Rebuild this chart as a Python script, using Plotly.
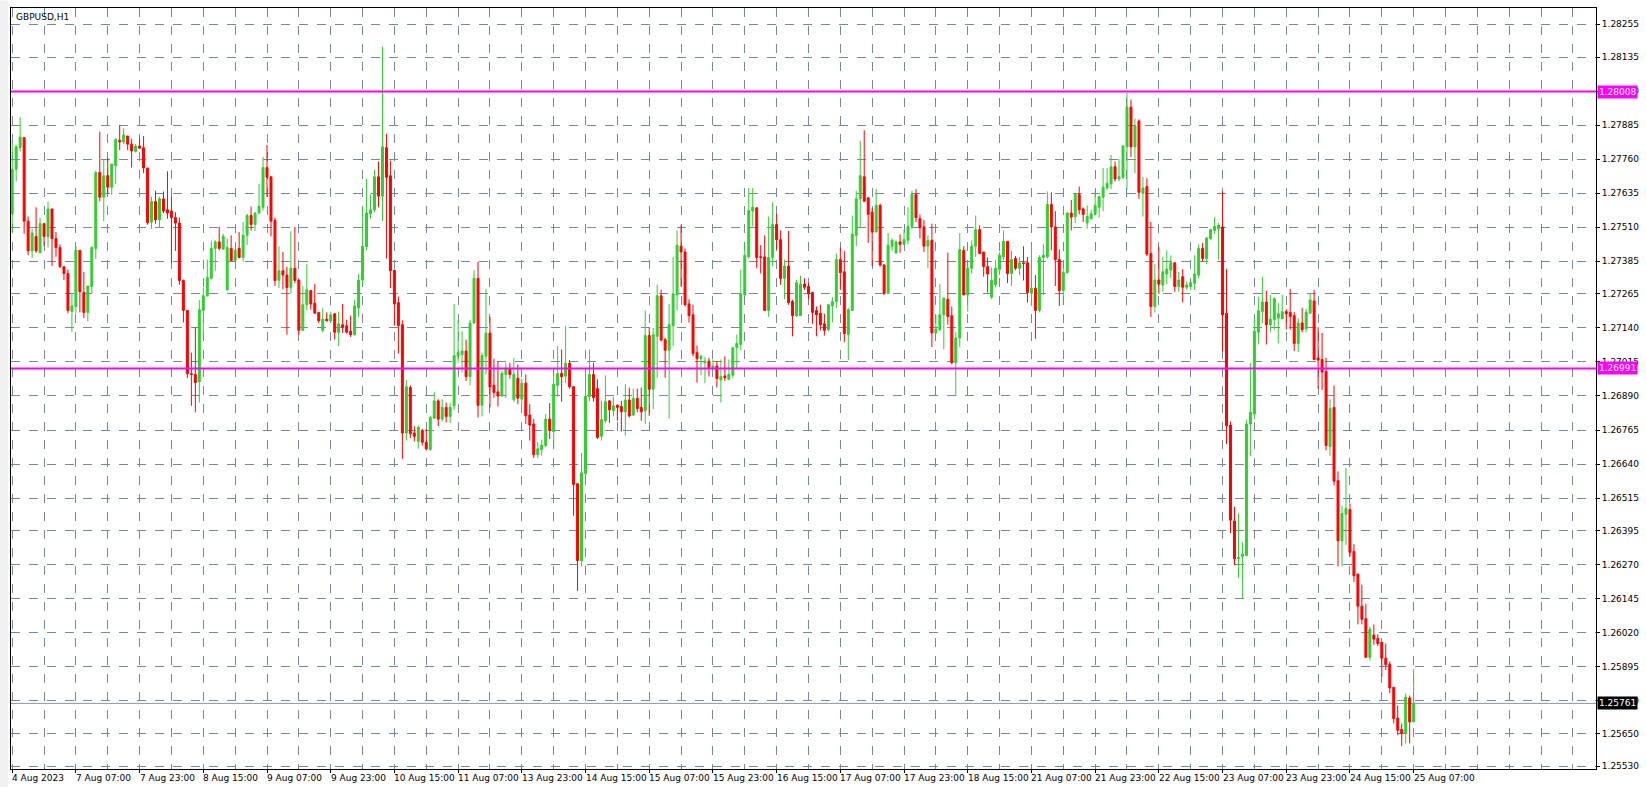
import plotly.graph_objects as go

symbol_title = "GBPUSD,H1"

open_ = [1.27559,1.27723,1.27802,1.27839,1.27532,1.27423,1.27476,1.27416,1.27523,1.27476,
1.27577,1.27468,1.27435,1.27365,1.27340,1.27200,1.27219,1.27425,1.27270,1.27197,
1.27292,1.27432,1.27711,1.27620,1.27699,1.27657,1.27736,1.27829,1.27823,1.27845,
1.27815,1.27788,1.27808,1.27802,1.27727,1.27529,1.27604,1.27537,1.27614,1.27574,
1.27569,1.27545,1.27525,1.27314,1.27204,1.26972,1.26969,1.26942,1.27204,1.27258,
1.27322,1.27432,1.27456,1.27429,1.27280,1.27432,1.27387,1.27432,1.27399,1.27480,
1.27553,1.27520,1.27562,1.27583,1.27729,1.27695,1.27535,1.27314,1.27350,1.27334,
1.27288,1.27359,1.27316,1.27131,1.27225,1.27277,1.27231,1.27197,1.27131,1.27172,
1.27166,1.27192,1.27124,1.27152,1.27148,1.27128,1.27115,1.27213,1.27316,1.27438,
1.27559,1.27574,1.27695,1.27624,1.27802,1.27699,1.27352,1.27233,1.27152,1.26754,
1.26921,1.26754,1.26723,1.26763,1.26720,1.26693,1.26808,1.26872,1.26805,1.26848,
1.26815,1.26854,1.27036,1.27042,1.27055,1.26961,1.27158,1.27322,1.26856,1.27036,
1.27121,1.26929,1.26905,1.26890,1.26969,1.26988,1.26876,1.26955,1.26878,1.26937,
1.26820,1.26787,1.26674,1.26693,1.26708,1.26805,1.26759,1.26929,1.26973,1.26963,
1.27010,1.26924,1.26568,1.26285,1.26605,1.26888,1.26969,1.26917,1.26742,1.26799,
1.26872,1.26836,1.26856,1.26851,1.26832,1.26875,1.26820,1.26881,1.26848,1.26836,
1.27112,1.26915,1.27109,1.27258,1.27097,1.27058,1.27148,1.27261,1.27440,1.27419,
1.27228,1.27188,1.27049,1.27027,1.27012,1.27018,1.26994,1.27000,1.26949,1.26963,
1.26951,1.26966,1.27067,1.27079,1.27261,1.27401,1.27569,1.27581,1.27401,1.27401,
1.27204,1.27399,1.27520,1.27464,1.27322,1.27367,1.27237,1.27185,1.27185,1.27301,
1.27292,1.27270,1.27204,1.27194,1.27155,1.27134,1.27221,1.27237,1.27391,1.27346,
1.27115,1.27204,1.27480,1.27614,1.27695,1.27618,1.27565,1.27492,1.27590,1.27371,
1.27267,1.27440,1.27416,1.27456,1.27447,1.27462,1.27513,1.27630,1.27541,1.27511,
1.27440,1.27462,1.27121,1.27134,1.27188,1.27245,1.27185,1.27012,1.27103,1.27425,
1.27261,1.27359,1.27440,1.27501,1.27419,1.27365,1.27253,1.27298,1.27355,1.27401,
1.27458,1.27340,1.27395,1.27359,1.27379,1.27379,1.27267,1.27286,1.27204,1.27399,
1.27401,1.27593,1.27511,1.27391,1.27277,1.27343,1.27562,1.27549,1.27630,1.27577,
1.27525,1.27541,1.27557,1.27583,1.27620,1.27654,1.27669,1.27732,1.27687,1.27693,
1.27805,1.27951,1.27805,1.27900,1.27635,1.27659,1.27413,1.27219,1.27316,1.27298,
1.27338,1.27352,1.27379,1.27292,1.27328,1.27289,1.27292,1.27304,1.27334,1.27432,
1.27395,1.27468,1.27498,1.27504,1.27511,1.27194,1.26783,1.26431,1.26292,1.26301,
1.26304,1.26787,1.26824,1.27124,1.27200,1.27235,1.27152,1.27170,1.27176,1.27174,
1.27200,1.27197,1.27185,1.27083,1.27158,1.27137,1.27194,1.27239,1.27030,1.27024,
1.26980,1.26704,1.26848,1.26579,1.26358,1.26455,1.26473,1.26319,1.26236,1.26118,
1.26072,1.25930,1.26012,1.25999,1.25985,1.25927,1.25905,1.25820,1.25707,1.25665,
1.25650,1.25781,1.25693]

high = [1.27827,1.27812,1.27914,1.27841,1.27549,1.27504,1.27583,1.27545,1.27523,1.27604,
1.27577,1.27492,1.27447,1.27365,1.27355,1.27267,1.27440,1.27425,1.27346,1.27294,
1.27440,1.27717,1.27861,1.27760,1.27764,1.27742,1.27836,1.27885,1.27873,1.27845,
1.27835,1.27815,1.27835,1.27845,1.27729,1.27622,1.27644,1.27622,1.27641,1.27715,
1.27622,1.27565,1.27545,1.27318,1.27204,1.27049,1.27142,1.27243,1.27288,1.27391,
1.27460,1.27462,1.27511,1.27486,1.27468,1.27480,1.27428,1.27492,1.27529,1.27559,
1.27586,1.27565,1.27669,1.27768,1.27812,1.27695,1.27545,1.27440,1.27419,1.27365,
1.27495,1.27511,1.27316,1.27294,1.27374,1.27280,1.27301,1.27197,1.27213,1.27197,
1.27200,1.27194,1.27200,1.27228,1.27170,1.27185,1.27243,1.27338,1.27586,1.27687,
1.27630,1.27720,1.27751,1.28173,1.27853,1.27754,1.27352,1.27255,1.27168,1.26949,
1.26929,1.26779,1.26781,1.26769,1.26769,1.26817,1.26905,1.26878,1.26878,1.26866,
1.26864,1.27228,1.27170,1.27128,1.27097,1.27170,1.27352,1.27383,1.27049,1.27282,
1.27180,1.27027,1.27018,1.26982,1.27012,1.27012,1.27030,1.27006,1.26954,1.26969,
1.26860,1.26805,1.26720,1.26730,1.26824,1.26864,1.26982,1.27073,1.27061,1.27146,
1.27022,1.26927,1.26568,1.26681,1.26969,1.27061,1.27012,1.26951,1.26872,1.26966,
1.26876,1.26888,1.26856,1.26872,1.26933,1.26921,1.26917,1.26917,1.26921,1.27204,
1.27140,1.27140,1.27298,1.27280,1.27103,1.27228,1.27401,1.27498,1.27517,1.27432,
1.27245,1.27225,1.27075,1.27042,1.27034,1.27030,1.27024,1.27018,1.27024,1.27036,
1.27024,1.27070,1.27115,1.27355,1.27452,1.27654,1.27654,1.27583,1.27444,1.27480,
1.27549,1.27602,1.27559,1.27498,1.27391,1.27496,1.27243,1.27316,1.27331,1.27322,
1.27306,1.27273,1.27219,1.27225,1.27192,1.27228,1.27253,1.27413,1.27435,1.27423,
1.27213,1.27553,1.27644,1.27827,1.27866,1.27618,1.27581,1.27650,1.27596,1.27374,
1.27489,1.27468,1.27462,1.27484,1.27501,1.27583,1.27644,1.27650,1.27557,1.27537,
1.27480,1.27523,1.27188,1.27301,1.27253,1.27416,1.27219,1.27124,1.27489,1.27440,
1.27377,1.27462,1.27553,1.27517,1.27419,1.27399,1.27362,1.27389,1.27419,1.27498,
1.27458,1.27423,1.27404,1.27401,1.27440,1.27401,1.27447,1.27334,1.27407,1.27447,
1.27641,1.27638,1.27569,1.27428,1.27355,1.27565,1.27610,1.27635,1.27659,1.27583,
1.27590,1.27574,1.27644,1.27626,1.27727,1.27727,1.27776,1.27751,1.27760,1.27812,
1.28003,1.27979,1.27909,1.27906,1.27695,1.27690,1.27529,1.27374,1.27438,1.27401,
1.27425,1.27407,1.27383,1.27346,1.27356,1.27310,1.27314,1.27407,1.27447,1.27452,
1.27474,1.27504,1.27547,1.27525,1.27642,1.27356,1.26796,1.26483,1.26459,1.26353,
1.26803,1.27010,1.27176,1.27255,1.27328,1.27277,1.27261,1.27252,1.27231,1.27261,
1.27209,1.27283,1.27199,1.27176,1.27214,1.27209,1.27265,1.27280,1.27143,1.27121,
1.27030,1.26878,1.26929,1.26613,1.26487,1.26625,1.26495,1.26346,1.26236,1.26197,
1.26127,1.26042,1.26051,1.26015,1.25985,1.25981,1.25915,1.25820,1.25753,1.25687,
1.25798,1.25790,1.25887]

low = [1.27492,1.27678,1.27788,1.27486,1.27407,1.27397,1.27416,1.27416,1.27440,1.27435,
1.27368,1.27401,1.27361,1.27316,1.27194,1.27124,1.27194,1.27197,1.27176,1.27164,
1.27267,1.27394,1.27605,1.27532,1.27632,1.27629,1.27669,1.27793,1.27815,1.27793,
1.27729,1.27784,1.27800,1.27708,1.27519,1.27503,1.27523,1.27508,1.27562,1.27541,
1.27379,1.27423,1.27298,1.27160,1.26956,1.26854,1.26830,1.26866,1.27100,1.27255,
1.27318,1.27350,1.27425,1.27428,1.27277,1.27387,1.27383,1.27395,1.27383,1.27444,
1.27498,1.27496,1.27557,1.27571,1.27620,1.27476,1.27294,1.27286,1.27282,1.27115,
1.27267,1.27304,1.27115,1.27128,1.27204,1.27207,1.27192,1.27158,1.27124,1.27164,
1.27158,1.27097,1.27073,1.27121,1.27119,1.27107,1.27112,1.27180,1.27294,1.27425,
1.27541,1.27565,1.27583,1.27532,1.27395,1.27286,1.27148,1.27046,1.26659,1.26726,
1.26735,1.26723,1.26696,1.26708,1.26690,1.26690,1.26808,1.26779,1.26796,1.26793,
1.26791,1.26839,1.27012,1.26976,1.26945,1.26929,1.27155,1.26811,1.26815,1.26969,
1.26848,1.26884,1.26851,1.26888,1.26883,1.26954,1.26869,1.26860,1.26860,1.26787,
1.26726,1.26662,1.26662,1.26671,1.26702,1.26732,1.26698,1.26888,1.26869,1.26937,
1.26917,1.26450,1.26173,1.26264,1.26589,1.26872,1.26869,1.26732,1.26726,1.26791,
1.26791,1.26815,1.26799,1.26759,1.26745,1.26811,1.26817,1.26830,1.26799,1.26787,
1.26817,1.26842,1.26957,1.27091,1.26957,1.26808,1.27073,1.27204,1.27292,1.27219,
1.27160,1.27036,1.26939,1.26966,1.26937,1.26961,1.26985,1.26921,1.26866,1.26945,
1.26949,1.26957,1.26988,1.27058,1.27258,1.27395,1.27513,1.27359,1.27340,1.27204,
1.27180,1.27367,1.27428,1.27298,1.27245,1.27225,1.27109,1.27180,1.27185,1.27280,
1.27245,1.27155,1.27109,1.27131,1.27112,1.27128,1.27160,1.27213,1.27280,1.27087,
1.27022,1.27204,1.27440,1.27508,1.27605,1.27452,1.27367,1.27492,1.27365,1.27261,
1.27265,1.27423,1.27411,1.27416,1.27444,1.27447,1.27504,1.27529,1.27468,1.27419,
1.27359,1.27070,1.27119,1.27128,1.27061,1.27152,1.27006,1.26890,1.27070,1.27261,
1.27200,1.27340,1.27401,1.27411,1.27328,1.27270,1.27245,1.27289,1.27334,1.27389,
1.27304,1.27294,1.27352,1.27334,1.27314,1.27233,1.27221,1.27100,1.27197,1.27261,
1.27395,1.27425,1.27294,1.27221,1.27225,1.27340,1.27498,1.27525,1.27557,1.27529,
1.27504,1.27537,1.27553,1.27545,1.27569,1.27647,1.27650,1.27678,1.27678,1.27687,
1.27647,1.27768,1.27708,1.27614,1.27549,1.27404,1.27180,1.27197,1.27265,1.27273,
1.27301,1.27322,1.27273,1.27273,1.27233,1.27280,1.27280,1.27280,1.27322,1.27383,
1.27374,1.27464,1.27486,1.27391,1.27055,1.26714,1.26386,1.26268,1.26222,1.26146,
1.26301,1.26669,1.26805,1.27079,1.27158,1.27079,1.27124,1.27134,1.27083,1.27172,
1.27134,1.27134,1.27055,1.27051,1.27124,1.27124,1.27192,1.27024,1.26917,1.26912,
1.26690,1.26671,1.26562,1.26264,1.26264,1.26343,1.26301,1.26207,1.26051,1.26051,
1.25930,1.25918,1.25976,1.25972,1.25859,1.25884,1.25798,1.25687,1.25644,1.25604,
1.25614,1.25614,1.25693]

close = [1.27723,1.27805,1.27841,1.27532,1.27423,1.27489,1.27423,1.27523,1.27476,1.27577,
1.27468,1.27435,1.27365,1.27340,1.27204,1.27221,1.27425,1.27273,1.27197,1.27294,
1.27435,1.27711,1.27620,1.27699,1.27657,1.27742,1.27833,1.27823,1.27849,1.27815,
1.27790,1.27808,1.27800,1.27727,1.27526,1.27604,1.27537,1.27614,1.27569,1.27562,
1.27545,1.27525,1.27314,1.27204,1.26972,1.26969,1.26939,1.27207,1.27258,1.27325,
1.27432,1.27456,1.27432,1.27476,1.27435,1.27387,1.27425,1.27399,1.27480,1.27553,
1.27520,1.27562,1.27586,1.27729,1.27693,1.27532,1.27314,1.27350,1.27334,1.27288,
1.27359,1.27314,1.27131,1.27225,1.27280,1.27228,1.27194,1.27166,1.27172,1.27166,
1.27188,1.27124,1.27155,1.27143,1.27124,1.27115,1.27221,1.27316,1.27440,1.27562,
1.27574,1.27695,1.27624,1.27805,1.27693,1.27350,1.27228,1.27149,1.26754,1.26924,
1.26751,1.26742,1.26775,1.26720,1.26696,1.26811,1.26872,1.26805,1.26848,1.26815,
1.26848,1.27039,1.27049,1.27055,1.26961,1.27158,1.27322,1.26856,1.27039,1.27121,
1.26923,1.26903,1.26890,1.26973,1.26991,1.26969,1.26969,1.26882,1.26937,1.26817,
1.26783,1.26674,1.26696,1.26710,1.26805,1.26763,1.26933,1.26973,1.26961,1.27010,
1.26924,1.26565,1.26285,1.26608,1.26888,1.26969,1.26884,1.26738,1.26803,1.26869,
1.26839,1.26854,1.26848,1.26832,1.26875,1.26817,1.26881,1.26844,1.26832,1.27112,
1.26915,1.27115,1.27258,1.27095,1.27058,1.27152,1.27265,1.27444,1.27419,1.27225,
1.27185,1.27046,1.27027,1.27036,1.27018,1.26994,1.27000,1.26954,1.26961,1.26957,
1.26969,1.27067,1.27083,1.27265,1.27407,1.27571,1.27583,1.27399,1.27399,1.27204,
1.27399,1.27520,1.27464,1.27322,1.27367,1.27233,1.27185,1.27306,1.27301,1.27289,
1.27265,1.27197,1.27188,1.27152,1.27131,1.27225,1.27237,1.27391,1.27343,1.27119,
1.27207,1.27484,1.27614,1.27699,1.27605,1.27557,1.27492,1.27590,1.27371,1.27267,
1.27444,1.27462,1.27456,1.27447,1.27464,1.27513,1.27630,1.27545,1.27508,1.27440,
1.27462,1.27121,1.27136,1.27188,1.27249,1.27182,1.27012,1.27103,1.27428,1.27261,
1.27359,1.27440,1.27501,1.27413,1.27365,1.27338,1.27314,1.27359,1.27407,1.27458,
1.27340,1.27391,1.27359,1.27379,1.27377,1.27270,1.27286,1.27204,1.27399,1.27407,
1.27593,1.27511,1.27391,1.27277,1.27344,1.27562,1.27547,1.27630,1.27574,1.27557,
1.27549,1.27559,1.27590,1.27622,1.27657,1.27671,1.27732,1.27687,1.27695,1.27808,
1.27951,1.27805,1.27881,1.27638,1.27654,1.27411,1.27219,1.27316,1.27301,1.27346,
1.27356,1.27379,1.27292,1.27316,1.27289,1.27298,1.27306,1.27338,1.27432,1.27395,
1.27470,1.27501,1.27513,1.27517,1.27188,1.26781,1.26434,1.26292,1.26297,1.26309,
1.26787,1.26830,1.27128,1.27203,1.27235,1.27152,1.27172,1.27247,1.27192,1.27199,
1.27192,1.27182,1.27083,1.27158,1.27134,1.27198,1.27243,1.27024,1.27022,1.26978,
1.26708,1.26844,1.26577,1.26358,1.26459,1.26477,1.26316,1.26230,1.26118,1.26070,
1.25930,1.26033,1.25997,1.25981,1.25927,1.25903,1.25818,1.25705,1.25662,1.25650,
1.25784,1.25693,1.25761]

date_labels = ["4 Aug 2023","7 Aug 07:00","7 Aug 23:00","8 Aug 15:00","9 Aug 07:00",
"9 Aug 23:00","10 Aug 15:00","11 Aug 07:00","13 Aug 23:00","14 Aug 15:00","15 Aug 07:00",
"15 Aug 23:00","16 Aug 15:00","17 Aug 07:00","17 Aug 23:00","18 Aug 15:00","21 Aug 07:00",
"21 Aug 23:00","22 Aug 15:00","23 Aug 07:00","23 Aug 23:00","24 Aug 15:00","25 Aug 07:00"]
bars_per_label = 16

price_labels = ["1.28255","1.28135","1.28010","1.27885","1.27760","1.27635","1.27510",
"1.27385","1.27265","1.27140","1.27015","1.26890","1.26765","1.26640","1.26515","1.26395",
"1.26270","1.26145","1.26020","1.25895","1.25770","1.25650","1.25530"]

level_lines = [1.28008, 1.26991]
current_price = 1.25761

x = list(range(len(close)))
FONT = "DejaVu Sans"
GRID = "#778899"

fig = go.Figure(go.Candlestick(
    x=x, open=open_, high=high, low=low, close=close,
    increasing=dict(line=dict(color="#32CD32", width=1), fillcolor="#32CD32"),
    decreasing=dict(line=dict(color="#FF0000", width=1), fillcolor="#FF0000"),
    whiskerwidth=0, hoverinfo="skip", showlegend=False))

for lv in level_lines:
    fig.add_hline(y=lv, line=dict(color="#FF00FF", width=2), layer="above")
fig.add_hline(y=current_price, line=dict(color="#8A96A3", width=1), layer="below")

tickpos = [i * bars_per_label for i in range(len(date_labels))]
for pos, lab in zip(tickpos, date_labels):
    fig.add_annotation(x=pos, y=0, xref="x", yref="paper", text=lab, showarrow=False,
                       xanchor="left", yanchor="top", yshift=-2, xshift=-2,
                       font=dict(family=FONT, size=9, color="black"))

for lv in level_lines:
    fig.add_annotation(x=1, y=lv, xref="paper", yref="y", text=f"{lv:.5f}", showarrow=False,
                       xanchor="left", yanchor="middle", xshift=1, bgcolor="#FF00FF",
                       borderpad=1, font=dict(family=FONT, size=9, color="white"))
fig.add_annotation(x=1, y=current_price, xref="paper", yref="y", text=f"{current_price:.5f}",
                   showarrow=False, xanchor="left", yanchor="middle", xshift=1,
                   bgcolor="black", borderpad=1, font=dict(family=FONT, size=9, color="white"))

fig.add_annotation(x=0, y=1, xref="paper", yref="paper", text=symbol_title, showarrow=False,
                   xanchor="left", yanchor="top", xshift=3, yshift=-2,
                   font=dict(family=FONT, size=9, color="black"))

fig.add_shape(type="rect", xref="paper", yref="paper", x0=-0.0075, x1=-0.002, y0=-0.03, y1=1.01,
              fillcolor="#F0F0F0", line=dict(width=0), layer="below")

fig.update_layout(
    width=1646, height=787, paper_bgcolor="white", plot_bgcolor="white",
    margin=dict(l=11, r=42, t=7, b=18),
    font=dict(family=FONT, size=9, color="black"),
    xaxis=dict(range=[-0.3, 397.8], rangeslider=dict(visible=False),
               tickvals=tickpos, ticktext=[""] * len(tickpos), ticks="outside", ticklen=3,
               tickcolor="black", showgrid=True, gridcolor=GRID, griddash="dash", gridwidth=1,
               minor=dict(dtick=8, tick0=0, showgrid=True, gridcolor=GRID, griddash="dash", ticks=""),
               showline=True, linecolor="black", linewidth=1, mirror=True, zeroline=False,
               fixedrange=True),
    yaxis=dict(range=[1.25520, 1.28315], side="right",
               tickvals=[float(v) for v in price_labels], ticktext=price_labels,
               ticks="outside", ticklen=3, tickcolor="black",
               showgrid=True, gridcolor=GRID, griddash="dash", gridwidth=1,
               showline=True, linecolor="black", linewidth=1, mirror=True, zeroline=False,
               tickfont=dict(family=FONT, size=9, color="black")),
)

fig.write_html("out.html", config={"displayModeBar": False},
               post_script="document.body.style.margin='0';document.body.style.overflow='hidden';")
